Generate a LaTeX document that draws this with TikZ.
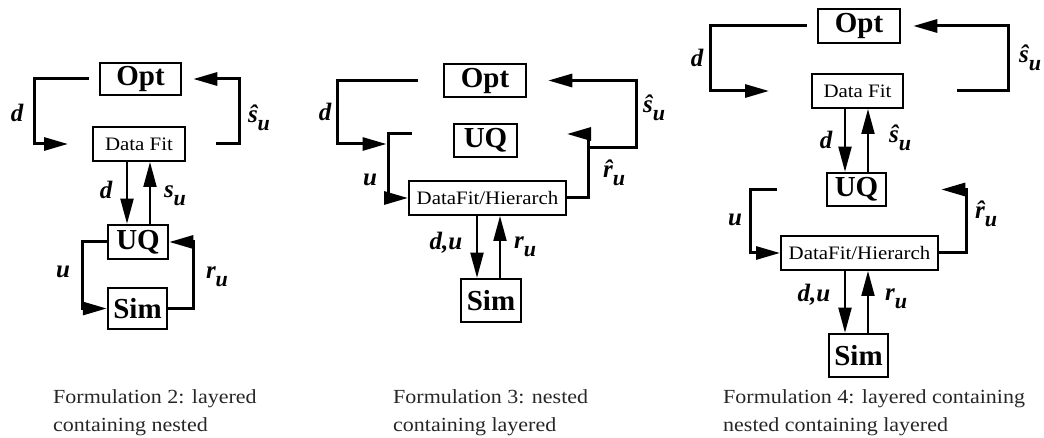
\documentclass[tikz,border=0pt]{standalone}
\usepackage{fontspec}
\setmainfont{Liberation Serif}
\newfontfamily\labfont[FakeStretch=1.1]{Liberation Serif}
\usetikzlibrary{arrows.meta,calc}
\tikzset{
  box/.style={draw, line width=2.5pt, inner sep=0pt, font=\fontsize{29}{29}\selectfont\bfseries},
  tbox/.style={draw, line width=2pt, inner sep=0pt, font=\labfont\fontsize{19}{19}\selectfont},
  loopline/.style={line width=3pt, -{Triangle[length=24pt,width=13pt]}},
  inarr/.style={line width=2pt, -{Triangle[length=25pt,width=13pt]}},
  lab/.style={inner sep=0pt, font=\fontsize{25}{25}\selectfont\bfseries\itshape},
  captext/.style={inner sep=0pt, anchor=north west, align=left, text=black!85, font=\labfont\fontsize{20}{28}\selectfont},
}
\newcommand\lsub[2]{#1\raisebox{-8pt}{\fontsize{22}{22}\selectfont #2}}
\begin{document}
\begin{tikzpicture}[x=1pt,y=-1pt]
\useasboundingbox (0,0) rectangle (1044,438);

% ---------------- Panel 1 ----------------
\node[box, minimum width=81, minimum height=32] (opt1) at (140.5,79) {Opt};
\node[tbox, minimum width=92, minimum height=34] (fit1) at (139,144) {Data Fit};
\node[box, minimum width=60, minimum height=34] (uq1) at (138,242) {UQ};
\node[box, minimum width=59, minimum height=41] (sim1) at (137.5,308.5) {Sim};

\draw[loopline] ([xshift=-10pt]opt1.west) -- ++(-54,0) |- ([xshift=-24pt]fit1.west);
\draw[loopline] ([xshift=30pt]fit1.east) -- ++(23,0) |- ([xshift=11pt]opt1.east);
\draw[inarr] ([xshift=-12pt]fit1.south) -- ([xshift=-12pt]fit1.south |- uq1.north);
\draw[inarr] ([xshift=11pt]fit1.south |- uq1.north) -- ([xshift=11pt]fit1.south);
\draw[loopline] (uq1.west) -- ++(-24,0) |- (sim1.west);
\draw[loopline] (sim1.east) -- ++(25,0) |- (uq1.east);

\node[lab] (l1a) at (17,113) {d};
\node[lab] (l1b) at (259,118) {\lsub{\^{s}}{u}};
\node[lab] (l1c) at (106,190) {d};
\node[lab] (l1d) at (175,196) {\lsub{s}{u}};
\node[lab] (l1e) at (63,272) {u};
\node[lab] (l1f) at (217,277) {\lsub{r}{u}};

\node[captext] (cap1) at (53,389) {Formulation 2: layered\\containing nested};

% ---------------- Panel 2 ----------------
\node[box, minimum width=82, minimum height=33] (opt2) at (485,80.5) {Opt};
\node[box, minimum width=63, minimum height=33] (uq2) at (485.5,140.5) {UQ};
\node[tbox, minimum width=157, minimum height=34] (dfh2) at (487.5,198) {DataFit/Hierarch};
\node[box, minimum width=60, minimum height=43] (sim2) at (491,300.5) {Sim};

\coordinate (u2s) at (412,134);
\coordinate (u2d) at (386.5,144);
\coordinate (s2s) at (589,148);
\coordinate (r2e) at (567,134);

\draw[loopline] ([xshift=-25pt]opt2.west) -- ++(-80,0) |- (u2d);
\draw[loopline] (u2s) -- ++(-24,0) |- (dfh2.west);
\draw[loopline] (s2s) -- ++(47,0) |- ([xshift=21pt]opt2.east);
\draw[loopline] (dfh2.east) -- ++(21,0) |- (r2e);
\draw[inarr] ([xshift=-10.5pt]dfh2.south) -- ([xshift=-10.5pt]dfh2.south |- sim2.north);
\draw[inarr] ([xshift=12.5pt]dfh2.south |- sim2.north) -- ([xshift=12.5pt]dfh2.south);

\node[lab] (l2a) at (325,112) {d};
\node[lab] (l2b) at (370,180) {u};
\node[lab] (l2c) at (654,108) {\lsub{\^{s}}{u}};
\node[lab] (l2d) at (614,173) {\lsub{\^{r}}{u}};
\node[lab] (l2e) at (446,243) {d,u};
\node[lab] (l2f) at (525,247) {\lsub{r}{u}};

\node[captext] (cap2) at (393,389) {Formulation 3: nested\\containing layered};

% ---------------- Panel 3 ----------------
\node[box, minimum width=82, minimum height=34] (opt3) at (859,26) {Opt};
\node[tbox, minimum width=91, minimum height=34] (fit3) at (857.5,91) {Data Fit};
\node[box, minimum width=59, minimum height=33] (uq3) at (856.5,189.5) {UQ};
\node[tbox, minimum width=157, minimum height=34] (dfh3) at (859.5,253) {DataFit/Hierarch};
\node[box, minimum width=59, minimum height=43] (sim3) at (858.5,355.5) {Sim};

\draw[loopline] ([xshift=-10pt]opt3.west) -- ++(-96,0) |- ([xshift=-42pt]fit3.west);
\draw[loopline] ([xshift=53pt]fit3.east) -- ++(51,0) |- ([xshift=12pt]opt3.east);
\draw[inarr] ([xshift=-12.5pt]fit3.south) -- ([xshift=-12.5pt]fit3.south |- uq3.north);
\draw[inarr] ([xshift=10.5pt]fit3.south |- uq3.north) -- ([xshift=10.5pt]fit3.south);
\draw[loopline] ([xshift=-49pt]uq3.west) -- ++(-26,0) |- (dfh3.west);
\draw[loopline] (dfh3.east) -- ++(27,0) |- ([xshift=54pt]uq3.east);
\draw[inarr] ([xshift=-14.5pt]dfh3.south) -- ([xshift=-14.5pt]dfh3.south |- sim3.north);
\draw[inarr] ([xshift=8.5pt]dfh3.south |- sim3.north) -- ([xshift=8.5pt]dfh3.south);

\node[lab] (l3a) at (697,58) {d};
\node[lab] (l3b) at (1030,58) {\lsub{\^{s}}{u}};
\node[lab] (l3c) at (826,140) {d};
\node[lab] (l3d) at (900,138) {\lsub{\^{s}}{u}};
\node[lab] (l3e) at (735,220) {u};
\node[lab] (l3f) at (986,214) {\lsub{\^{r}}{u}};
\node[lab] (l3g) at (814,295) {d,u};
\node[lab] (l3h) at (896,299) {\lsub{r}{u}};

\node[captext] (cap3) at (723,389) {Formulation 4: layered containing\\nested containing layered};
\end{tikzpicture}
\end{document}
